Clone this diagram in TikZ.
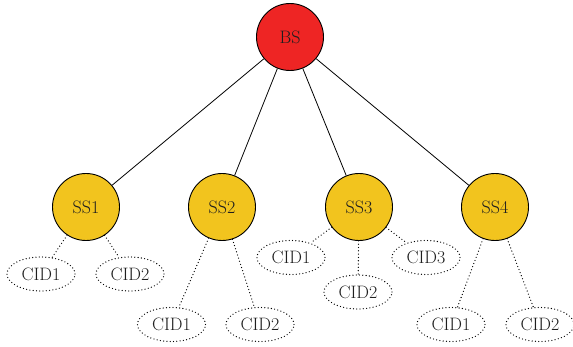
\documentclass[tikz,border=0pt]{standalone}
\usetikzlibrary{shapes.geometric}
\definecolor{bsred}{HTML}{EE2524}
\definecolor{ssyellow}{HTML}{F2C41E}
\definecolor{txt}{HTML}{1E1E1E}
\tikzset{
  station/.style={circle, draw=black, line width=0.9pt, minimum size=67pt, inner sep=0pt,
    text=txt, font=\fontsize{18}{20}\selectfont},
  bsnode/.style={station, fill=bsred},
  ssnode/.style={station, fill=ssyellow},
  cidnode/.style={ellipse, draw=black, line width=1.3pt, dash pattern=on 0pt off 3.3pt,
    line cap=round, minimum width=68pt, minimum height=34pt, inner sep=0pt,
    text=txt, font=\fontsize{18}{20}\selectfont},
  link/.style={draw=black, line width=0.8pt},
  dotlink/.style={draw=black, line width=1.3pt, dash pattern=on 0pt off 3.3pt, line cap=round}
}
\begin{document}
\begin{tikzpicture}[x=1pt,y=-1pt]
\useasboundingbox (0,0) rectangle (573,347);

% base station and subscriber stations
\node[bsnode] (bs) at (290,37) {BS};
\node[ssnode] (ss1) at (86,207) {SS1};
\node[ssnode] (ss2) at (222,207) {SS2};
\node[ssnode] (ss3) at (359,207) {SS3};
\node[ssnode] (ss4) at (495,207) {SS4};

% connection identifiers
\node[cidnode] (c11) at (41,274) {CID1};
\node[cidnode] (c12) at (130,274) {CID2};
\node[cidnode] (c21) at (171.5,324.5) {CID1};
\node[cidnode] (c22) at (260,324.5) {CID2};
\node[cidnode] (c31) at (291,257.5) {CID1};
\node[cidnode] (c32) at (358,292) {CID2};
\node[cidnode] (c33) at (426,257.5) {CID3};
\node[cidnode] (c41) at (451,324.5) {CID1};
\node[cidnode] (c42) at (540,324.5) {CID2};

% links
\foreach \s in {ss1,ss2,ss3,ss4} \draw[link] (bs) -- (\s);
\draw[dotlink] (ss1) -- (c11);
\draw[dotlink] (ss1) -- (c12);
\draw[dotlink] (ss2) -- (c21);
\draw[dotlink] (ss2) -- (c22);
\draw[dotlink] (ss3) -- (c31);
\draw[dotlink] (ss3) -- (c32);
\draw[dotlink] (ss3) -- (c33);
\draw[dotlink] (ss4) -- (c41);
\draw[dotlink] (ss4) -- (c42);
\end{tikzpicture}
\end{document}
